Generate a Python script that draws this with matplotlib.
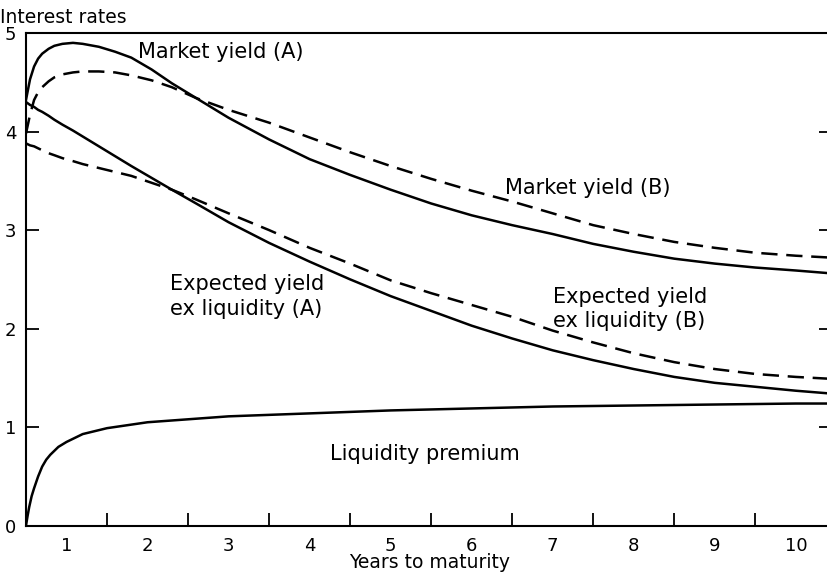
import matplotlib
matplotlib.use('Agg')
import matplotlib.pyplot as plt
import numpy as np

# Years to maturity and yields
years = [0.5, 0.55, 0.6, 0.65, 0.7, 0.78, 0.85, 0.95, 1.08, 1.2, 1.4, 1.6, 1.8, 2.05, 2.3,
         2.6, 3.0, 3.5, 4.0, 4.5, 5.0, 5.5, 6.0, 6.5, 7.0, 7.5, 8.0, 8.5, 9.0, 9.5, 10.0, 10.45]
market_a = [4.32, 4.53, 4.66, 4.74, 4.79, 4.84, 4.87, 4.89, 4.90, 4.89, 4.86, 4.81, 4.75,
            4.63, 4.49, 4.34, 4.14, 3.92, 3.72, 3.56, 3.41, 3.27, 3.15, 3.05, 2.96, 2.86,
            2.78, 2.71, 2.66, 2.62, 2.59, 2.56]
market_b = [3.98, 4.17, 4.32, 4.40, 4.45, 4.51, 4.55, 4.58, 4.60, 4.61, 4.61, 4.60, 4.57,
            4.52, 4.45, 4.34, 4.22, 4.09, 3.94, 3.79, 3.65, 3.52, 3.40, 3.29, 3.17, 3.05,
            2.96, 2.88, 2.82, 2.77, 2.74, 2.72]
expected_a = [4.30, 4.27, 4.25, 4.22, 4.20, 4.16, 4.12, 4.07, 4.01, 3.95, 3.85, 3.75, 3.65,
              3.53, 3.41, 3.27, 3.08, 2.87, 2.68, 2.50, 2.33, 2.18, 2.03, 1.90, 1.78, 1.68,
              1.59, 1.51, 1.45, 1.41, 1.37, 1.34]
expected_b = [3.88, 3.86, 3.85, 3.83, 3.81, 3.78, 3.76, 3.73, 3.70, 3.67, 3.63, 3.59, 3.55,
              3.48, 3.41, 3.31, 3.17, 3.00, 2.82, 2.66, 2.49, 2.36, 2.24, 2.12, 1.98, 1.86,
              1.75, 1.66, 1.59, 1.54, 1.51, 1.49]
liq_years = [0.5, 0.52, 0.54, 0.57, 0.6, 0.65, 0.7, 0.75, 0.8, 0.9, 1.0, 1.1, 1.2, 1.35,
             1.5, 1.75, 2.0, 2.5, 3.0, 4.0, 5.0, 6.0, 7.0, 8.0, 9.0, 10.0, 10.45]
liquidity = [0.0, 0.10, 0.19, 0.30, 0.38, 0.50, 0.60, 0.67, 0.72, 0.80, 0.85, 0.89, 0.93,
             0.96, 0.99, 1.02, 1.05, 1.08, 1.11, 1.14, 1.17, 1.19, 1.21, 1.22, 1.23, 1.24,
             1.24]

x_labels = [str(i) for i in range(1, 11)]

plt.rcParams['font.family'] = ['DejaVu Sans']
fig = plt.figure(figsize=(8.27, 5.74), dpi=100)
ax = fig.add_axes([0.0314, 0.0841, 0.975, 0.8584])

lw = 1.8
dash = (6.5, 3.5)
ax.plot(years, market_a, color='black', lw=lw)
ax.plot(years, market_b, color='black', lw=lw, dashes=dash)
ax.plot(years, expected_a, color='black', lw=lw)
ax.plot(years, expected_b, color='black', lw=lw, dashes=dash)
ax.plot(liq_years, liquidity, color='black', lw=lw)

ax.set_xlim(0.5, 10.45)
ax.set_ylim(0, 5)

for s in ax.spines.values():
    s.set_linewidth(1.5)

# integer labels without marks, half-year marks without labels
ax.set_xticks(range(1, 11))
ax.set_xticklabels(x_labels)
ax.set_xticks(np.arange(1.5, 10.0, 1.0), minor=True)
ax.tick_params(axis='x', which='major', length=0, pad=8, labelsize=13)
ax.tick_params(axis='x', which='minor', direction='in', length=9.5, width=1.3)

ax.set_yticks(range(0, 6))
ax.tick_params(axis='y', which='major', direction='in', length=9.5, width=1.3,
               pad=7, labelsize=13, right=True)

fig.text(0.52, 1 - 563 / 574, 'Years to maturity', fontsize=13.5, ha='center', va='center')
fig.text(0.0, 0.97, 'Interest rates', fontsize=13.5, ha='left', va='center')

fs = 15
ax.text(1.88, 4.81, 'Market yield (A)', fontsize=fs, va='center')
ax.text(6.41, 3.43, 'Market yield (B)', fontsize=fs, va='center')
ax.text(2.28, 2.33, 'Expected yield\nex liquidity (A)', fontsize=fs, va='center',
        linespacing=1.3)
ax.text(7.0, 2.2, 'Expected yield\nex liquidity (B)', fontsize=fs, va='center',
        linespacing=1.3)
ax.text(4.25, 0.73, 'Liquidity premium', fontsize=fs, va='center')

fig.savefig('out.png', dpi=100)
